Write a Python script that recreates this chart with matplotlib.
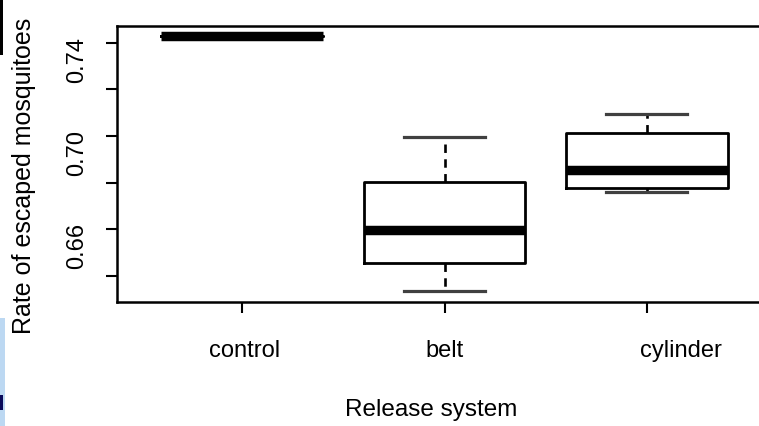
import matplotlib
matplotlib.use("Agg")
import matplotlib.pyplot as plt
from matplotlib.transforms import ScaledTranslation
from matplotlib.patches import Rectangle

# ---- data ----
groups = ["control", "belt", "cylinder"]
whislo = [0.7427, 0.6337, 0.6762]
q1     = [0.7427, 0.6458, 0.6777]
med    = [0.7427, 0.6597, 0.6853]
q3     = [0.7427, 0.6805, 0.7012]
whishi = [0.7427, 0.6995, 0.7093]

ytick_vals = [0.64, 0.66, 0.68, 0.70, 0.72, 0.74]
ytick_labels = ["", "0.66", "", "0.70", "", "0.74"]

xlabel = "Release system"
ylabel = "Rate of escaped mosquitoes"

plt.rcParams['font.family'] = ['Liberation Sans', 'DejaVu Sans']

W, H, DPI = 759, 426, 100
fig = plt.figure(figsize=(W / DPI, H / DPI), dpi=DPI)
ax = fig.add_axes([117 / W, (H - 301.5) / H, (772 - 117) / W, (301.5 - 26) / H])

stats = []
for g, lo, a, m, b, hi in zip(groups, whislo, q1, med, q3, whishi):
    stats.append(dict(label=g, whislo=lo, q1=a, med=m, q3=b, whishi=hi, fliers=[]))

positions = list(range(1, len(groups) + 1))
ax.bxp(stats, positions=positions, widths=0.8, showfliers=False,
       boxprops=dict(color="black", linewidth=2.0),
       medianprops=dict(color="black", linewidth=6.8, solid_capstyle="butt"),
       whiskerprops=dict(color="black", linewidth=1.9, linestyle=(0, (3.2, 2.4))),
       capprops=dict(color="#404040", linewidth=2.3),
       capwidths=0.4)

ax.set_xlim(0.38, 3.62)
ax.set_ylim(0.6291, 0.7472)

for s in ax.spines.values():
    s.set_linewidth(1.8)
    s.set_color("black")

ax.set_yticks(ytick_vals)
ax.set_yticklabels(ytick_labels, rotation=90, va="center", fontsize=17)
ax.tick_params(axis="y", length=8, width=1.5, pad=13)
for lab in ax.get_yticklabels():
    lab.set_transform(lab.get_transform() + ScaledTranslation(0, -0.17, fig.dpi_scale_trans))

ax.set_xticks(positions)
ax.set_xticklabels(groups, fontsize=17)
ax.tick_params(axis="x", length=8, width=1.5, pad=20)
x_offsets_px = [2, 0, 34]
for lab, dx in zip(ax.get_xticklabels(), x_offsets_px):
    lab.set_transform(lab.get_transform() + ScaledTranslation(dx / DPI, 0, fig.dpi_scale_trans))

ax.set_xlabel(xlabel, fontsize=17.5, va="center")
ax.xaxis.set_label_coords((431 - 117) / 655, (301.5 - 410) / 275.5)
ax.set_ylabel(ylabel, fontsize=18, va="center")
ax.yaxis.set_label_coords((24 - 117) / 655, (301.5 - 175.5) / 275.5)

# edge artifacts of the source image
fig.patches.append(Rectangle((0, 1 - 55 / H), 3 / W, 55 / H, transform=fig.transFigure,
                             facecolor="black", edgecolor="none"))
fig.patches.append(Rectangle((0, 0), 5 / W, (H - 318) / H, transform=fig.transFigure,
                             facecolor="#bcd8f2", edgecolor="none"))
fig.patches.append(Rectangle((0, 1 - 410 / H), 3 / W, 15 / H, transform=fig.transFigure,
                             facecolor="#0a0a5a", edgecolor="none"))

fig.savefig("out.png", dpi=DPI)
